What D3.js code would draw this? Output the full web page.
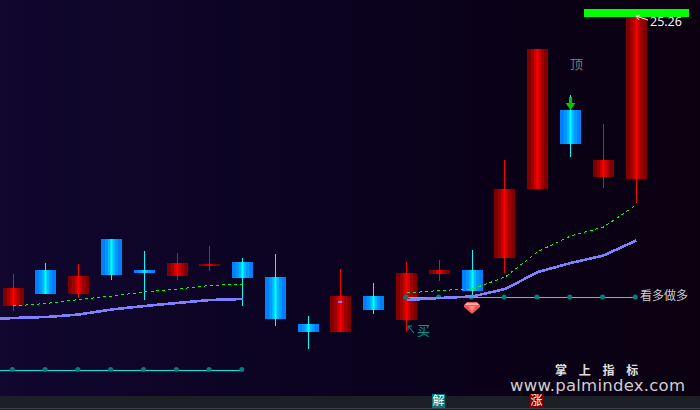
<!DOCTYPE html>
<html>
<head>
<meta charset="utf-8">
<script src="https://cdn.jsdelivr.net/npm/d3@7"></script>
<style>
    html, body { margin: 0; padding: 0; background: #0a0012; overflow: hidden; }
    text { font-family: "Noto Sans CJK SC", "DejaVu Sans", sans-serif; }
</style>
</head>
<body>
<div id="chart"></div>
<script>
// slot number of each candle
const slots = d3.range(0, 20);

// prices
const opens  = [19.46, 20.18, 19.70, 20.80, 20.18, 20.06, 20.26, 20.34, 20.04, 19.10, 18.94, 19.66, 19.18, 20.10, 20.18, 20.42, 21.80, 23.38, 22.04, 22.00];
const closes = [19.82, 19.70, 20.06, 20.08, 20.12, 20.32, 20.30, 20.02, 19.20, 18.94, 19.66, 19.38, 20.12, 20.18, 19.76, 21.80, 24.60, 22.70, 22.38, 25.26];
const highs  = [20.10, 20.32, 20.30, 20.80, 20.56, 20.52, 20.66, 20.42, 20.50, 19.26, 20.20, 19.92, 20.34, 20.38, 20.58, 22.38, 24.60, 23.68, 23.10, 25.26];
const lows   = [19.36, 19.70, 19.62, 19.98, 19.58, 19.98, 20.16, 19.46, 19.06, 18.60, 18.94, 19.30, 18.96, 19.96, 19.60, 20.12, 21.80, 22.44, 21.82, 21.52];

// indicator lines, null = not drawn in that slot. first value of the purple line is slot -1
const purpleLine = [19.18, 19.22, 19.24, 19.29, 19.39, 19.46, 19.52, 19.58, 19.60, null, null, null, null, 19.58, 19.62, 19.65, 19.80, 20.14, 20.32, 20.47, 20.77];
const greenLine  = [null, 19.46, 19.51, 19.59, 19.66, 19.74, 19.80, 19.87, 19.90, null, null, null, null, 19.72, 19.77, 19.80, 20.04, 20.55, 20.86, 21.04, 21.48];

// signal lines: [first slot, last slot, price]
const signalLines = [[-1, 7, 18.18], [12, 19, 19.63]];

// body shading, from the edge to the middle, mirrored
const redStripes  = ["#800000", "#a00000", "#c80000", "#e80000", "#ff0000"];
const blueStripes = ["#0080ff", "#0098ff", "#00b8ff", "#00e0ff", "#00ffff"];
const stripeWidths = [4, 3, 2, 1, 1];

const width = 700, height = 410;
const bodyWidth = 21;

const svg = d3.select("#chart").append("svg")
    .attr("width", width)
    .attr("height", height)
    .style("display", "block");

const x = d3.scaleLinear().domain([0, 19]).range([13.3, 636.3]);
const y = d3.scaleLinear().domain([25.58, 17.38]).range([0, 410]);

const bodyLeft = d => Math.floor(x(d) - 10.2);

const defs = svg.append("defs");

// background goes from dark blue to almost black
const bg = defs.append("linearGradient").attr("id", "bg");
bg.append("stop").attr("offset", "0%").attr("stop-color", "#11072f");
bg.append("stop").attr("offset", "45%").attr("stop-color", "#0b0320");
bg.append("stop").attr("offset", "100%").attr("stop-color", "#0a0010");

function stripes(id, colors) {
    let g = defs.append("linearGradient").attr("id", id);
    let pos = 0;
    function band(c, w) {
        g.append("stop").attr("offset", pos / bodyWidth).attr("stop-color", c);
        pos += w;
        g.append("stop").attr("offset", pos / bodyWidth).attr("stop-color", c);
    }
    colors.forEach((c, i) => band(c, stripeWidths[i]));
    for (let i = colors.length - 2; i >= 0; i--) band(colors[i], stripeWidths[i]);
}
stripes("redBody", redStripes);
stripes("blueBody", blueStripes);

svg.append("rect").attr("width", width).attr("height", height).attr("fill", "url(#bg)");

// strip at the bottom
svg.append("rect").attr("y", 396).attr("width", width).attr("height", 14).attr("fill", "#1c1f26");
svg.append("rect").attr("y", 408).attr("width", width).attr("height", 1).attr("fill", "#3c3f47");

// wicks
svg.selectAll(".wick")
    .data(slots)
    .enter().append("line")
    .attr("class", "wick")
    .attr("x1", d => bodyLeft(d) + 10.5)
    .attr("x2", d => bodyLeft(d) + 10.5)
    .attr("y1", d => Math.round(y(highs[d])))
    .attr("y2", d => Math.round(y(lows[d])))
    .attr("stroke", d => closes[d] >= opens[d] ? "#ff0000" : "#00ffff")
    .attr("stroke-width", 1)
    .attr("shape-rendering", "crispEdges");

// bodies
svg.selectAll(".body")
    .data(slots)
    .enter().append("rect")
    .attr("class", "body")
    .attr("x", d => bodyLeft(d))
    .attr("width", bodyWidth)
    .attr("y", d => Math.round(y(Math.max(opens[d], closes[d]))))
    .attr("height", d => Math.round(y(Math.min(opens[d], closes[d]))) - Math.round(y(Math.max(opens[d], closes[d]))))
    .attr("fill", d => closes[d] >= opens[d] ? "url(#redBody)" : "url(#blueBody)")
    .attr("shape-rendering", "crispEdges");

// small purple stub on the 11th candle
svg.append("rect")
    .attr("x", x(10) - 3)
    .attr("y", y(19.56))
    .attr("width", 4)
    .attr("height", 2)
    .attr("fill", "#8080ff");

// signal lines with dots
signalLines.forEach(function (s) {
    svg.append("line")
        .attr("x1", x(s[0]))
        .attr("x2", x(s[1]) - 1)
        .attr("y1", y(s[2]))
        .attr("y2", y(s[2]))
        .attr("stroke", "#00e8e8")
        .attr("stroke-width", 1)
        .attr("shape-rendering", "crispEdges");

    svg.selectAll(null)
        .data(d3.range(Math.max(s[0], 0), s[1] + 1))
        .enter().append("circle")
        .attr("cx", d => x(d) - 1)
        .attr("cy", y(s[2]) - 0.5)
        .attr("r", 2.5)
        .attr("fill", "#007f7f");
});

// indicator lines
const line = d3.line()
    .defined(d => d !== null)
    .x((d, i) => x(i - 1))
    .y(d => y(d));

svg.append("path")
    .datum(purpleLine)
    .attr("fill", "none")
    .attr("stroke", "#8080ff")
    .attr("stroke-width", 2.6)
    .attr("shape-rendering", "crispEdges")
    .attr("d", line);

svg.append("path")
    .datum(greenLine)
    .attr("fill", "none")
    .attr("stroke", "#00ff00")
    .attr("stroke-width", 1)
    .attr("stroke-dasharray", "3,3")
    .attr("shape-rendering", "crispEdges")
    .attr("d", line);

// green bar at the top right
svg.append("rect")
    .attr("x", 584)
    .attr("y", 9)
    .attr("width", 105)
    .attr("height", 8)
    .attr("fill", "#00ff00");

// arrow and label of the highest price
svg.append("path")
    .attr("d", "M636,16 L648,20 M636,16 L640,15 M636,16 L639,20")
    .attr("fill", "none")
    .attr("stroke", "#ffffff")
    .attr("stroke-width", 1);

svg.append("text")
    .attr("x", 650)
    .attr("y", 26)
    .attr("fill", "#ffffff")
    .style("font-family", "'Open Sans', sans-serif")
    .style("font-size", "12.5px")
    .text(d3.format(".2f")(highs[19]));

// green arrow above the blue candle
svg.append("path")
    .attr("transform", "translate(" + (bodyLeft(17) + 10.5) + "," + y(opens[17]) + ")")
    .attr("d", "M-1.5,-13 L1.5,-13 L1.5,-7 L5,-7 L0,0 L-5,-7 L-1.5,-7 Z")
    .attr("fill", "#00c800");

// gem below the candle
const gem = svg.append("g")
    .attr("transform", "translate(" + (bodyLeft(14) + 10) + "," + y(19.42) + ")");
gem.append("path")
    .attr("d", "M-5,-6 L5,-6 L8,-3 L8,-1 L0,6 L-8,-1 L-8,-3 Z")
    .attr("fill", "#f25555");
gem.append("path")
    .attr("d", "M-5,-5 L5,-5 L7,-3 L-7,-3 Z")
    .attr("fill", "#ffb0a0");
gem.append("path")
    .attr("d", "M-3,-2 L3,-2 L0,4 Z")
    .attr("fill", "#ff8c80");

// labels
svg.append("text").attr("x", 570).attr("y", 69).attr("fill", "#777777").style("font-size", "13px").text("顶");
svg.append("path")
    .attr("d", "M408,326 L414,333 M408,326 L408,330 M408,326 L412,326")
    .attr("fill", "none")
    .attr("stroke", "#009c9c")
    .attr("stroke-width", 1);
svg.append("text").attr("x", 417).attr("y", 335).attr("fill", "#009c9c").style("font-size", "13px").text("买");
svg.append("text").attr("x", 640).attr("y", 300).attr("fill", "#cccccc").style("font-size", "12px").text("看多做多");

// badges in the bottom strip
const badges = [[13, "解", "#007878"], [16, "涨", "#800000"]];
badges.forEach(function (b) {
    svg.append("rect")
        .attr("x", bodyLeft(b[0]) + 3)
        .attr("y", 394)
        .attr("width", 13)
        .attr("height", 14)
        .attr("fill", b[2]);
    svg.append("text")
        .attr("x", bodyLeft(b[0]) + 9.5)
        .attr("y", 405)
        .attr("text-anchor", "middle")
        .attr("fill", "#ffffff")
        .style("font-size", "12px")
        .text(b[1]);
});

// watermark
svg.append("text")
    .attr("x", 555)
    .attr("y", 375)
    .attr("fill", "#e0e0e0")
    .style("font-size", "12px")
    .style("font-weight", "bold")
    .style("letter-spacing", "4.5px")
    .text("掌 上 指 标");

svg.append("text")
    .attr("x", 510)
    .attr("y", 391)
    .attr("fill", "#cfcfcf")
    .style("font-family", "'DejaVu Sans', sans-serif")
    .style("font-size", "16.5px")
    .attr("textLength", 175)
    .text("www.palmindex.com");
</script>
</body>
</html>
